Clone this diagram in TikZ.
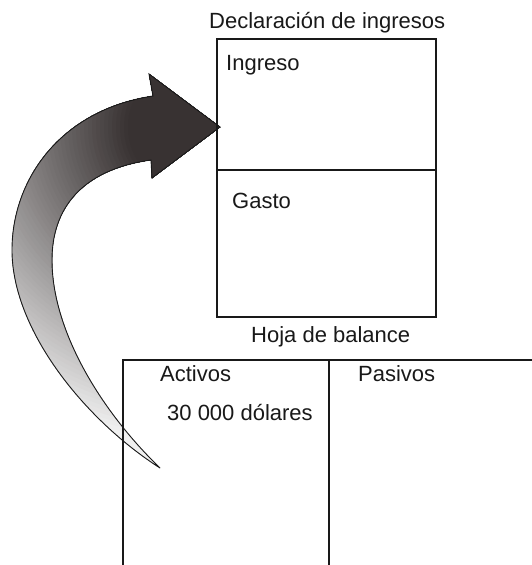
\documentclass[tikz,border=0pt]{standalone}
\usepackage{fontspec}
\setmainfont{Liberation Sans}
\definecolor{dk}{RGB}{56,50,50}
\definecolor{lt}{RGB}{240,240,240}
\definecolor{ink}{RGB}{25,25,25}
\begin{document}
\begin{tikzpicture}[x=1pt,y=-1pt,
  lbl/.style={font=\fontsize{22}{26}\selectfont, inner sep=0pt, anchor=base west, text=ink},
  boxline/.style={draw=ink, line width=1.3pt},
  arrowline/.style={draw=ink, line width=0.9pt}]
\useasboundingbox (0,0) rectangle (532,565);
\fill[white] (0,0) rectangle (532,565);
% arrow
\def\arrowpath{(153,96) -- (149,74) -- (220,127) -- (152,178) -- (151,160)
  .. controls (80,170) and (52,210) .. (52,260)
  .. controls (52,330) and (100,410) .. (160,468)
  .. controls (85,420) and (12,330) .. (12,250)
  .. controls (12,180) and (60,110) .. cycle}
\begin{scope}
  \clip \arrowpath;
  \foreach \r in {380,376,...,0} {
    \pgfmathsetmacro\p{max(0,min(100,(\r-65)/2.5))}
    \fill[lt!\p!dk] (192,127) circle (\r pt);
  }
\end{scope}
\draw[arrowline] \arrowpath;
% top box
\draw[boxline] (217,39) rectangle (436,317);
\draw[boxline] (217,170) -- (436,170);
% bottom box
\draw[boxline] (123,570) -- (123,360) -- (540,360);
\draw[boxline] (329,360) -- (329,570);
% texts
\node[lbl] (t1) at (209,28) {Declaración de ingresos};
\node[lbl] (ing) at (226,70) {Ingreso};
\node[lbl] (gas) at (232,208) {Gasto};
\node[lbl] (t2) at (251,342) {Hoja de balance};
\node[lbl] (act) at (160,381) {Activos};
\node[lbl] (pas) at (358,381) {Pasivos};
\node[lbl] (val) at (167,420) {30 000 dólares};
\end{tikzpicture}
\end{document}
